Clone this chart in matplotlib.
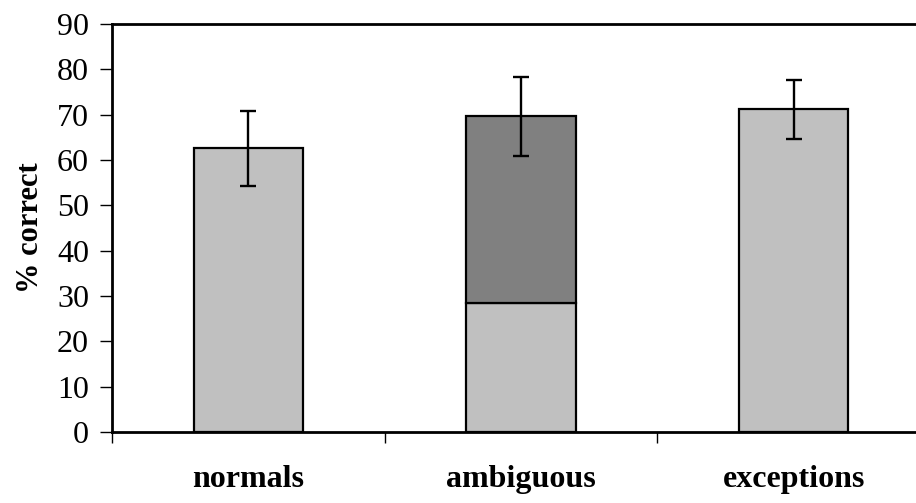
import matplotlib
matplotlib.use("Agg")
import matplotlib.pyplot as plt
import numpy as np

categories = ["normals", "ambiguous", "exceptions"]
light_values = [62.6, 28.4, 71.2]
dark_values = [0.0, 41.2, 0.0]   # stacked on top of light part (ambiguous only)
err_lower = [8.3, 8.8, 6.5]
err_upper = [8.2, 8.7, 6.4]
yticks = [0, 10, 20, 30, 40, 50, 60, 70, 80, 90]

plt.rcParams['font.family'] = ['Liberation Serif', 'DejaVu Serif']

fig = plt.figure(figsize=(9.16, 5.03), dpi=100)
ax = fig.add_axes([112/916, 71/503, (930-112)/916, (432-24)/503])

x = np.arange(len(categories))
light = "#c0c0c0"
dark = "#808080"
ax.bar(x, light_values, width=0.4, color=light, edgecolor="black", linewidth=1.6, zorder=2)
ax.bar(x[1], dark_values[1], bottom=light_values[1], width=0.4, color=dark,
       edgecolor="black", linewidth=1.6, zorder=2)

tops = [l + d for l, d in zip(light_values, dark_values)]
ax.errorbar(x, tops, yerr=[err_lower, err_upper], fmt="none", ecolor="black",
            elinewidth=1.7, capsize=5.8, capthick=1.7, zorder=3)

ax.set_xlim(-0.5, 2.5)
ax.set_ylim(0, 90)
ax.set_yticks(yticks)
ax.set_xticks(x)
ax.set_xticklabels(categories, fontsize=23, fontweight="bold")
ax.set_xticks([-0.5, 0.5, 1.5], minor=True)
ax.tick_params(axis="x", which="major", length=0, pad=24)
ax.tick_params(axis="x", which="minor", length=8, width=1, direction="out")
ax.tick_params(axis="y", which="major", length=8.5, width=1, direction="out",
               labelsize=23, pad=8)
ax.set_ylabel("% correct", fontsize=22, fontweight="bold", labelpad=9)

for s in ["left", "bottom", "top"]:
    ax.spines[s].set_linewidth(2)
ax.spines["right"].set_visible(False)

fig.savefig("out.png", dpi=100)
